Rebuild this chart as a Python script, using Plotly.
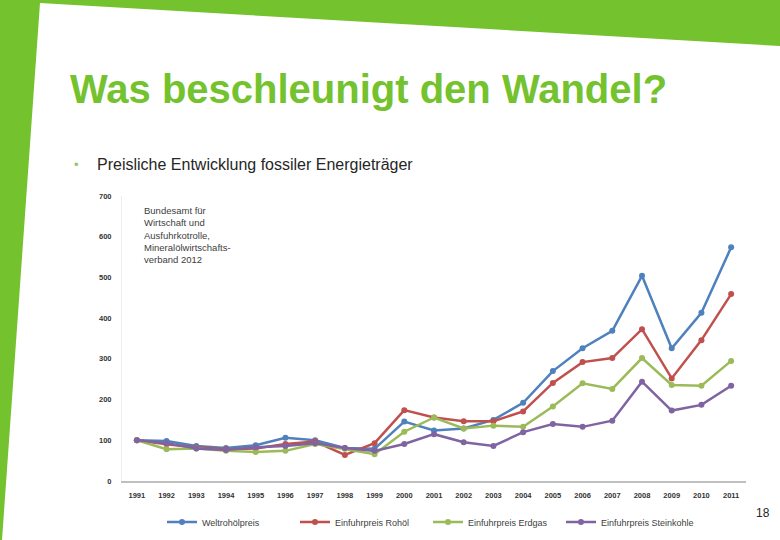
import plotly.graph_objects as go

W, H = 780, 540

years = [str(y) for y in range(1991, 2012)]
weltrohoel = [100, 98, 86, 81, 88, 106, 100, 81, 79, 146, 124, 129, 150, 192, 270, 326, 369, 504, 326, 413, 574]
rohoel = [100, 90, 82, 78, 80, 91, 97, 64, 93, 174, 156, 147, 147, 171, 241, 292, 302, 373, 252, 346, 459]
erdgas = [100, 78, 80, 74, 71, 74, 91, 79, 66, 121, 156, 129, 136, 133, 183, 240, 226, 302, 236, 234, 295]
steinkohle = [100, 93, 80, 76, 83, 86, 93, 81, 74, 91, 115, 95, 86, 120, 140, 133, 148, 244, 173, 187, 234]
series_names = ["Weltrohölpreis", "Einfuhrpreis Rohöl", "Einfuhrpreis Erdgas", "Einfuhrpreis Steinkohle"]
series_colors = ["#4F81BD", "#C0504D", "#9BBB59", "#8064A2"]
y_ticks = [0, 100, 200, 300, 400, 500, 600, 700]

title = "Was beschleunigt den Wandel?"
bullet_text = "Preisliche Entwicklung fossiler Energieträger"
source_text = "Bundesamt für<br>Wirtschaft und<br>Ausfuhrkotrolle,<br>Mineralölwirtschafts-<br>verband 2012"
page_no = "18"

GREEN = "#73C22E"
FONT = "Liberation Sans, Arial, sans-serif"


def px(x, y):
    return x / W, 1 - y / H


def path(points):
    s = ""
    for i, (x, y) in enumerate(points):
        a, b = px(x, y)
        s += ("M" if i == 0 else "L") + f"{a:.5f},{b:.5f} "
    return s + "Z"


fig = go.Figure()
for name, vals, col in zip(series_names, [weltrohoel, rohoel, erdgas, steinkohle], series_colors):
    fig.add_trace(go.Scatter(
        x=years, y=vals, name=name, mode="lines+markers",
        line=dict(color=col, width=2.5),
        marker=dict(color=col, size=6, symbol="circle"),
    ))

x0, x1 = 122, 746
ytop, ybot = 196, 481

fig.update_layout(
    width=W, height=H,
    margin=dict(l=0, r=0, t=0, b=0, autoexpand=False),
    paper_bgcolor="white", plot_bgcolor="white",
    showlegend=True,
    legend=dict(
        orientation="h", x=162 / W, xanchor="left", y=1 - 522 / H, yanchor="middle",
        font=dict(family=FONT, size=9, color="#404040"),
        itemwidth=30, entrywidth=88, entrywidthmode="pixels",
        bgcolor="rgba(0,0,0,0)",
    ),
    xaxis=dict(
        domain=[x0 / W, x1 / W], type="category", range=[-0.5, 20.5],
        showgrid=False, showline=True, linecolor="#BFBFBF", linewidth=1.5,
        ticks="", ticklabelstandoff=6,
        tickfont=dict(family=FONT, size=7.5, color="#333333", weight="bold"),
        anchor="y", zeroline=False, fixedrange=True,
    ),
    yaxis=dict(
        domain=[1 - ybot / H, 1 - ytop / H], range=[0, 700],
        tickvals=y_ticks, showgrid=False, zeroline=False,
        showline=True, linecolor="#EEEEEE", linewidth=1,
        ticks="", ticklabelstandoff=8,
        tickfont=dict(family=FONT, size=7.5, color="#333333", weight="bold"),
        fixedrange=True,
    ),
    shapes=[
        dict(type="path", xref="paper", yref="paper", layer="below",
             path=path([(0, 0), (W, 0), (W, 46), (40, 3), (2, H), (0, H)]),
             fillcolor=GREEN, line=dict(width=0)),
    ],
    annotations=[
        dict(text=title, xref="paper", yref="paper", x=px(68, 0)[0], y=px(0, 89)[1],
             xanchor="left", yanchor="middle", showarrow=False,
             font=dict(family=FONT, size=40, color=GREEN, weight="bold")),
        dict(text="•", xref="paper", yref="paper", x=px(72, 0)[0], y=px(0, 164)[1],
             xanchor="left", yanchor="middle", showarrow=False,
             font=dict(family=FONT, size=13, color="#8DC86A")),
        dict(text=bullet_text, xref="paper", yref="paper", x=px(95, 0)[0], y=px(0, 164)[1],
             xanchor="left", yanchor="middle", showarrow=False,
             font=dict(family=FONT, size=16, color="#262626")),
        dict(text=source_text, xref="paper", yref="paper", x=px(142, 0)[0], y=px(0, 203)[1],
             xanchor="left", yanchor="top", align="left", showarrow=False,
             font=dict(family=FONT, size=9.5, color="#404040")),
        dict(text=page_no, xref="paper", yref="paper", x=px(772, 0)[0], y=px(0, 513)[1],
             xanchor="right", yanchor="middle", showarrow=False,
             font=dict(family=FONT, size=12, color="#262626")),
    ],
)

fig.write_html("out.html", config={"displayModeBar": False},
               post_script="document.body.style.margin='0';document.body.style.overflow='hidden';")
